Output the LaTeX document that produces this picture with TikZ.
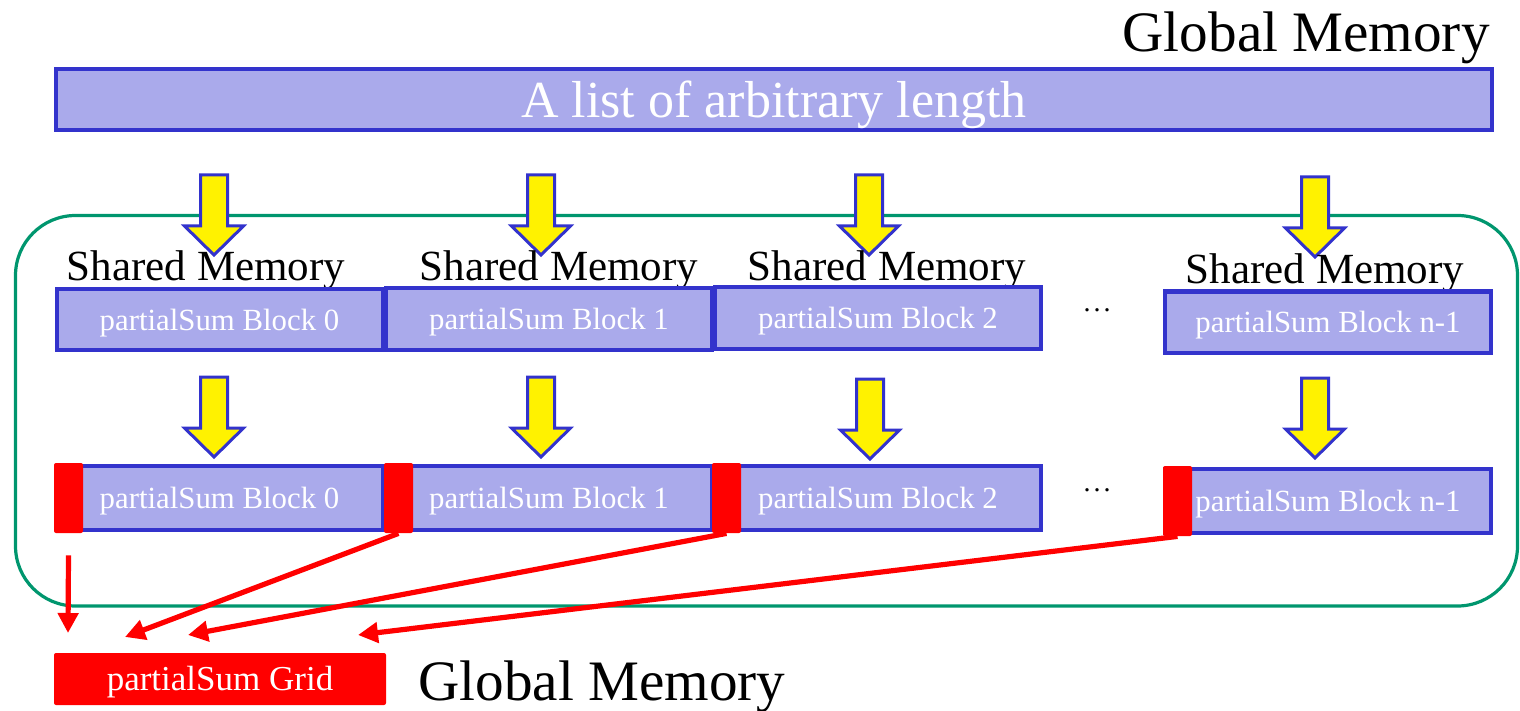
\documentclass[tikz,border=0pt]{standalone}
\usepackage{fontspec}
\setmainfont{Liberation Serif}
\usetikzlibrary{arrows.meta}
\definecolor{blkfill}{RGB}{170,170,235}
\definecolor{blkline}{RGB}{51,51,204}
\definecolor{smgreen}{RGB}{0,150,110}
\tikzset{
  blk/.style={draw=blkline,fill=blkfill,line width=2pt,text=white,inner sep=0pt,text height=11pt,text depth=0.5pt,
    font=\fontsize{15.4}{18}\selectfont,minimum width=163pt,minimum height=30.5pt},
  redtab/.style={fill=red,inner sep=0pt,minimum width=14.5pt,minimum height=35pt,rounded corners=1pt},
  shlabel/.style={anchor=base,inner sep=0pt,font=\fontsize{21.5}{24}\selectfont},
  dots/.style={font=\fontsize{14}{16}\selectfont},
  redarrow/.style={red,line width=2.6pt,-{Triangle[length=10pt,width=10pt]}},
  ydown/.pic={\draw[blkline,fill=yellow,line width=1.5pt] (-13.5,0) -- (13.5,0) -- (13.5,51) -- (29.5,51) -- (0,80) -- (-29.5,51) -- (-13.5,51) -- cycle;}
}
\begin{document}
\begin{tikzpicture}[x=0.5pt,y=-0.5pt]
\useasboundingbox (0,0) rectangle (1520,711);
\node[anchor=base east,inner sep=0pt,font=\fontsize{28.6}{32}\selectfont] (gtop) at (1490,52) {Global Memory};
\node[blk,minimum width=718pt,text height=19pt,text depth=0.5pt,font=\fontsize{26}{30}\selectfont] (list) at (774,99.5) {A list of arbitrary length};
\draw[smgreen,line width=1.6pt,rounded corners=30pt] (15.5,215.5) rectangle (1517.5,606);
\pic at (214,175) {ydown};
\pic at (541,175) {ydown};
\pic at (869,175) {ydown};
\pic at (1315,177) {ydown};
\node[shlabel] (s0) at (206,280) {Shared Memory};
\node[shlabel] (s1) at (559,280) {Shared Memory};
\node[shlabel] (s2) at (887,280) {Shared Memory};
\node[shlabel] (s3) at (1325,284) {Shared Memory};
\node[blk] (b0) at (219.5,319.5) {partialSum Block 0};
\node[blk] (b1) at (549,319) {partialSum Block 1};
\node[blk] (b2) at (878,318) {partialSum Block 2};
\node[blk] (b3) at (1328,322) {partialSum Block n-1};
\node[dots] (d0) at (1097,310) {.\hspace{1.5pt}.\hspace{1.5pt}.};
\pic at (214,377) {ydown};
\pic at (541,377) {ydown};
\pic at (870,379) {ydown};
\pic at (1315,378) {ydown};
\node[blk,minimum height=32pt] (c0) at (219.5,498) {partialSum Block 0};
\node[blk,minimum height=32pt] (c1) at (549,498) {partialSum Block 1};
\node[blk,minimum height=32pt] (c2) at (878,498) {partialSum Block 2};
\node[blk,minimum height=32pt] (c3) at (1328,501) {partialSum Block n-1};
\node[dots] (d1) at (1097,490) {.\hspace{1.5pt}.\hspace{1.5pt}.};
\node[redtab] (r0) at (68.5,498) {};
\node[redtab] (r1) at (398.5,498) {};
\node[redtab] (r2) at (726.5,498) {};
\node[redtab] (r3) at (1177.5,501) {};
\coordinate (t0) at (68,633);
\coordinate (t1) at (125,637);
\coordinate (t2) at (188,635);
\coordinate (t3) at (358,635);
\draw[redarrow] ([yshift=-11pt]r0.south) -- (t0);
\draw[redarrow] (r1.south) -- (t1);
\draw[redarrow] (r2.south) -- (t2);
\draw[redarrow] (r3.south) -- (t3);
\node[fill=red,text=white,inner sep=0pt,minimum width=166pt,minimum height=26pt,text height=12pt,text depth=1pt,rounded corners=1pt,font=\fontsize{17.5}{20}\selectfont] (grid) at (220,679) {partialSum Grid};
\node[anchor=base west,inner sep=0pt,font=\fontsize{28.6}{32}\selectfont] (gbot) at (418,700) {Global Memory};
\end{tikzpicture}
\end{document}
